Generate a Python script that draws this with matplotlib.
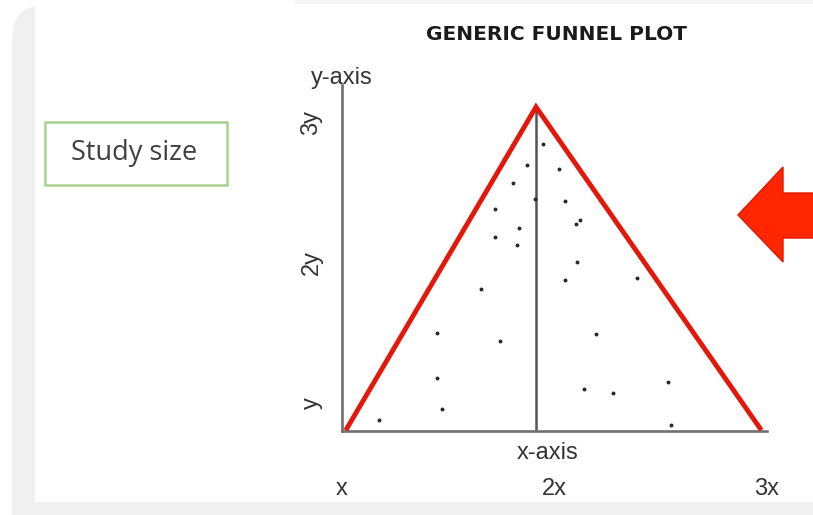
import matplotlib
matplotlib.use("Agg")
import matplotlib.pyplot as plt
import matplotlib.patches as mpatches

# --- data -------------------------------------------------------------
x_ticks = [1, 2, 3]
x_tick_labels = ["x", "2x", "3x"]
y_ticks = [1, 2, 3]
y_tick_labels = ["y", "2y", "3y"]

study_x = [1.947, 1.872, 2.023, 1.805, 1.908, 2.051, 1.719, 2.120, 2.101,
           1.832, 1.719, 1.822, 2.104, 2.051, 2.390, 1.653, 1.448, 2.197,
           1.745, 1.446, 2.536, 2.139, 2.275, 1.469, 1.176, 2.547]
study_y = [2.848, 2.698, 2.674, 2.569, 2.455, 2.443, 2.384, 2.307, 2.276,
           2.250, 2.188, 2.126, 2.007, 1.881, 1.895, 1.816, 1.502, 1.495,
           1.445, 1.179, 1.148, 1.102, 1.074, 0.957, 0.879, 0.841]

funnel_x = [1.0235, 1.913, 2.967]
funnel_y = [0.82, 3.114, 0.82]
center_x = 1.913

W, H = 813, 515
plt.rcParams["font.family"] = ["Liberation Sans", "DejaVu Sans"]

fig = plt.figure(figsize=(W / 100, H / 100), dpi=100, facecolor="white")
inch = fig.dpi_scale_trans


def px_rect(x0, y0, x1, y1):
    # pixel box (top-left origin) -> inches (bottom-left origin)
    return (x0 / 100, (H - y1) / 100), (x1 - x0) / 100, (y1 - y0) / 100


# light grey frame with rounded corners, white panel inside
xy, w, h = px_rect(12, 5, 900, 560)
fig.patches.append(mpatches.FancyBboxPatch(
    xy, w, h, boxstyle="round,pad=0,rounding_size=0.34", transform=inch,
    facecolor="#f0f0f0", edgecolor="none", zorder=-10))
xy, w, h = px_rect(35, 5, 900, 502)
fig.patches.append(mpatches.Rectangle(xy, w, h, transform=inch,
                                      facecolor="white", edgecolor="none",
                                      zorder=-9))
xy, w, h = px_rect(295, -2, 900, 4)
fig.patches.append(mpatches.Rectangle(xy, w, h, transform=inch,
                                      facecolor="#f5f5f5", edgecolor="none",
                                      zorder=-9))

ax = fig.add_axes([342 / W, (H - 431) / H, (767 - 342) / W, (431 - 85) / H])
ax.set_zorder(2)
ax.set_facecolor("none")
ax.set_xlim(1, 3)
ax.set_ylim(0.8, 3.271)
for side in ("top", "right"):
    ax.spines[side].set_visible(False)
for side in ("left", "bottom"):
    ax.spines[side].set_color("#707070")
    ax.spines[side].set_linewidth(1.9)

ax.set_xticks(x_ticks, x_tick_labels)
ax.set_yticks(y_ticks, y_tick_labels)
ax.tick_params(axis="x", length=0, pad=34, labelsize=17, labelcolor="#333333")
ax.tick_params(axis="y", length=0, pad=14, labelsize=17, labelcolor="#333333",
               labelrotation=90)
for lab in ax.get_yticklabels():
    lab.set_va("center")

# funnel
ax.plot([center_x, center_x], [0.8, funnel_y[1]], color="#555555", lw=1.8,
        zorder=2)
ax.plot(funnel_x, funnel_y, color="#e3170a", lw=3.5, solid_joinstyle="miter",
        zorder=3)
ax.scatter(study_x, study_y, s=8, color="#2a2a2a", zorder=4, linewidths=0)

# axis names
fig.text(342 / W, (H - 78) / H, "y-axis", ha="center", va="center",
         fontsize=17, color="#333333")
fig.text(548 / W, (H - 453) / H, "x-axis", ha="center", va="center",
         fontsize=17, color="#333333")

fig.text(556 / W, (H - 34) / H, "GENERIC FUNNEL PLOT", ha="center",
         va="center", fontsize=14.5, fontweight="bold", color="#1a1a1a",
         family=["DejaVu Sans"])

# "Study size" box
xy, w, h = px_rect(45, 122, 227, 185)
fig.patches.append(mpatches.Rectangle(xy, w, h, transform=inch,
                                      facecolor="white", edgecolor="#a9d18e",
                                      linewidth=1.8, zorder=1))
fig.text(134 / W, (H - 153) / H, "Study size", ha="center", va="center",
         fontsize=19.5, color="#404040", family=["Open Sans", "DejaVu Sans"],
         zorder=3)

# red arrow pointing left
arrow_px = [(738, 215), (783, 167), (783, 193), (830, 193), (830, 238),
            (783, 238), (783, 262)]
arrow = mpatches.Polygon([(px / 100, (H - py) / 100) for px, py in arrow_px],
                         closed=True, transform=inch,
                         facecolor="#ff2600", edgecolor="#e01800",
                         linewidth=1.0, zorder=5)
fig.patches.append(arrow)

fig.savefig("out.png", dpi=100, facecolor=fig.get_facecolor())
